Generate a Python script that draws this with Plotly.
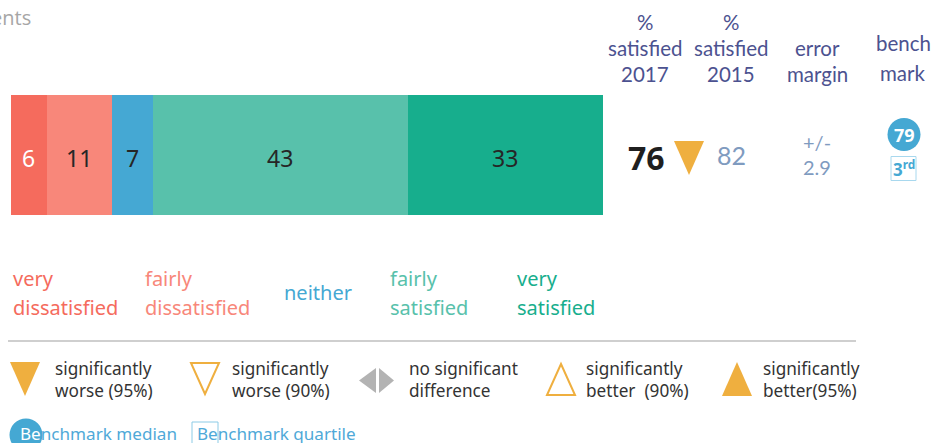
import plotly.graph_objects as go

WIDTH, HEIGHT = 946, 443
FONT = "Noto Sans"
HEAD_FONT = "Lato"

# Survey response shares
categories = ["very dissatisfied", "fairly dissatisfied", "neither", "fairly satisfied", "very satisfied"]
values = [6, 11, 7, 43, 33]
bar_colors = ["#F56B5D", "#F8877A", "#45A8D3", "#58C1AB", "#17AE8D"]
value_colors = ["#FFFFFF", "#262626", "#262626", "#262626", "#262626"]
label_colors = ["#F56B5D", "#F8877A", "#45A8D3", "#58C1AB", "#17AE8D"]

# Summary columns
satisfied_2017 = 76
satisfied_2015 = 82
error_margin = 2.9
benchmark_median = 79
benchmark_quartile = "3<sup>rd</sup>"

ORANGE = "#EFAF3F"
GREY = "#B3B3B3"
HEAD = "#4C5290"
MUTED = "#7F9BBF"
BLUE = "#45A8D3"
INK = "#333333"


def px(x):
    return x / WIDTH


def py(y):
    return 1 - y / HEIGHT


annotations = []


def text(s, x, y, size, color, anchor="center", font=FONT):
    annotations.append(dict(
        text=s, x=px(x), y=py(y), xref="paper", yref="paper",
        xanchor=anchor, yanchor="middle", align=anchor if anchor != "right" else "right",
        showarrow=False,
        font=dict(family=font, size=size, color=color),
        borderpad=0, borderwidth=0,
    ))


shapes = []


def triangle(points, fill=None, line=None):
    path = "M " + " L ".join(f"{px(a):.5f} {py(b):.5f}" for a, b in points) + " Z"
    shapes.append(dict(
        type="path", path=path, xref="paper", yref="paper",
        fillcolor=fill or "rgba(0,0,0,0)",
        line=dict(color=line or "rgba(0,0,0,0)", width=2 if line else 0),
    ))


def circle(cx, cy, r, fill):
    shapes.append(dict(
        type="circle", xref="paper", yref="paper",
        x0=px(cx - r), x1=px(cx + r), y0=py(cy + r), y1=py(cy - r),
        fillcolor=fill, line=dict(width=0),
    ))


def box(x0, y0, x1, y1, color):
    shapes.append(dict(
        type="rect", xref="paper", yref="paper",
        x0=px(x0), x1=px(x1), y0=py(y1), y1=py(y0),
        fillcolor="rgba(0,0,0,0)", line=dict(color=color, width=1),
    ))


# Stacked bar, one trace per response category, with its value centred on each segment
fig = go.Figure()
start = 0
for name, value, color, ink in zip(categories, values, bar_colors, value_colors):
    fig.add_trace(go.Bar(
        x=[value], y=["responses"], name=name, orientation="h",
        marker=dict(color=color, line=dict(width=0)),
        hoverinfo="skip",
    ))
    annotations.append(dict(
        text=str(value), x=start + value / 2, y="responses", xref="x", yref="y",
        yshift=-3, showarrow=False, borderpad=0,
        font=dict(family=FONT, size=23, color=ink),
    ))
    start += value

# Clipped caption at the top left
text("ents", 31, 18, 20, "#A6A6A6", anchor="right", font="Open Sans")

# Column headers
for line, y in zip(["%", "satisfied", "2017"], [22, 48, 74]):
    text(line, 645, y, 20.5, HEAD, font=HEAD_FONT)
for line, y in zip(["%", "satisfied", "2015"], [22, 48, 74]):
    text(line, 731, y, 20.5, HEAD, font=HEAD_FONT)
for line, y in zip(["error", "margin"], [48, 74]):
    text(line, 817, y, 20.5, HEAD, font=HEAD_FONT)
for line, y in zip(["bench", "mark"], [43.5, 73]):
    text(line, 903, y, 20.5, HEAD, font=HEAD_FONT)

# Summary row
text(f"<b>{satisfied_2017}</b>", 646, 157, 32, "#1F1F1F")
triangle([(674, 141), (704, 141), (689, 175)], fill=ORANGE)
text(str(satisfied_2015), 731, 155, 25, MUTED, font=HEAD_FONT)
text("+/-", 817, 142, 20, MUTED, font=HEAD_FONT)
text(str(error_margin), 817, 166.5, 20, MUTED, font=HEAD_FONT)
circle(904, 134.5, 16.5, BLUE)
text(f"<b>{benchmark_median}</b>", 904, 135, 18, "#FFFFFF")
box(891, 156.5, 916, 180.5, "#A8D8EE")
text(f"<b>{benchmark_quartile}</b>", 903.5, 168, 17, BLUE)

# Response category key
for lines, x, color in [
    (("very", "dissatisfied"), 13, label_colors[0]),
    (("fairly", "dissatisfied"), 145, label_colors[1]),
    (("fairly", "satisfied"), 390, label_colors[3]),
    (("very", "satisfied"), 517, label_colors[4]),
]:
    text(lines[0], x, 278, 20, color, anchor="left")
    text(lines[1], x, 307, 20, color, anchor="left")
text("neither", 284, 292, 20, label_colors[2], anchor="left")

# Divider
shapes.append(dict(
    type="line", xref="paper", yref="paper",
    x0=px(8), x1=px(856), y0=py(341), y1=py(341),
    line=dict(color="#CFCFCF", width=2),
))

# Significance key
triangle([(10, 362), (40, 362), (25, 396)], fill=ORANGE)
triangle([(191, 363), (219, 363), (205, 394)], line=ORANGE)
triangle([(376, 368), (376, 393), (359, 380.5)], fill=GREY)
triangle([(379, 368), (379, 393), (394, 380.5)], fill=GREY)
triangle([(561, 364), (575, 395), (547, 395)], line=ORANGE)
triangle([(737, 362), (752, 396), (722, 396)], fill=ORANGE)

key_entries = [
    (55, "significantly", "worse (95%)"),
    (232, "significantly", "worse (90%)"),
    (409, "no significant", "difference"),
    (586, "significantly", "better  (90%)"),
    (763, "significantly", "better(95%)"),
]
for x, first, second in key_entries:
    text(f"{first}<br>{second}", x, 379, 17.2, INK, anchor="left")

# Benchmark key
circle(26, 435, 16.5, BLUE)
box(192, 422, 218, 450, "#8CCBE6")
text('<span style="color:#FFFFFF">Be</span>nchmark median', 20, 433, 17.1, "#4FA9D8", anchor="left")
text("Benchmark quartile", 197, 433, 17.1, "#4FA9D8", anchor="left")

fig.update_layout(
    width=WIDTH, height=HEIGHT,
    margin=dict(l=0, r=0, t=0, b=0),
    paper_bgcolor="#FFFFFF", plot_bgcolor="#FFFFFF",
    barmode="stack", bargap=0, showlegend=False,
    xaxis=dict(domain=[px(11), px(603)], range=[0, sum(values)], visible=False, fixedrange=True),
    yaxis=dict(domain=[py(215), py(95)], visible=False, fixedrange=True),
    annotations=annotations, shapes=shapes,
)

fig.write_html("out.html", config={"displayModeBar": False})
